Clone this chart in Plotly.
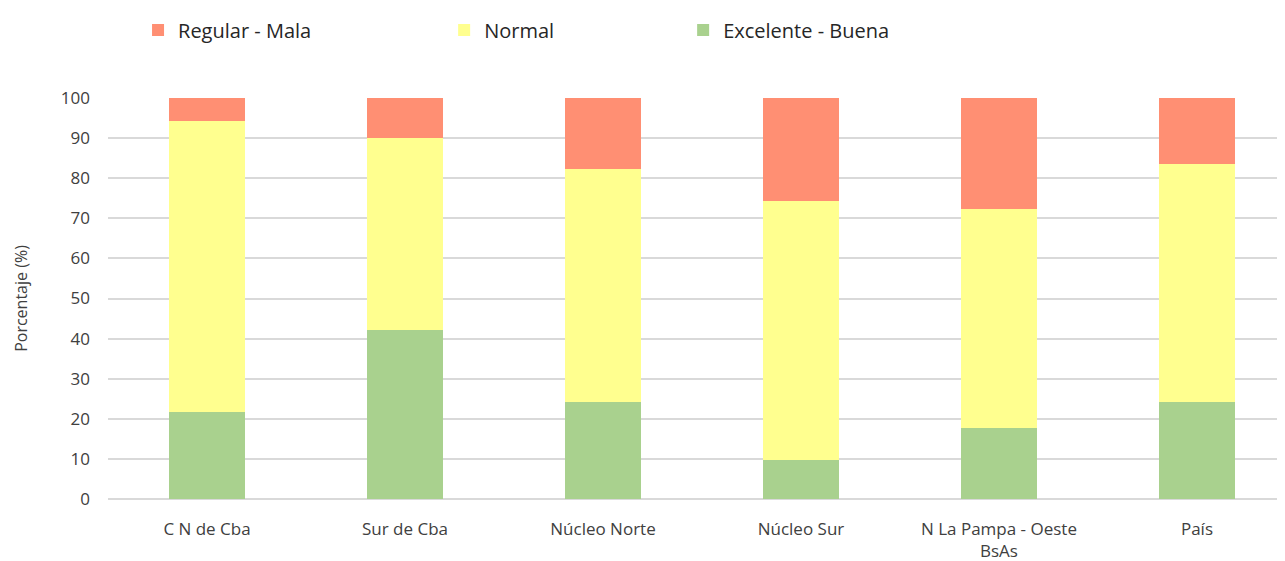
import plotly.graph_objects as go

categories = ["C N de Cba", "Sur de Cba", "Núcleo Norte", "Núcleo Sur", "N La Pampa - Oeste<br>BsAs", "País"]
excelente_buena = [21.8, 42.2, 24.2, 9.8, 17.6, 24.1]
normal = [72.5, 47.9, 58.0, 64.6, 54.8, 59.5]
regular_mala = [5.7, 9.9, 17.8, 25.6, 27.6, 16.4]
y_ticks = [0, 10, 20, 30, 40, 50, 60, 70, 80, 90, 100]

FONT = "Open Sans"
fig = go.Figure()
fig.add_bar(x=categories, y=excelente_buena, name="Excelente - Buena", marker_color="#A9D18E", width=0.38,
            marker_line_width=0, legend="legend3")
fig.add_bar(x=categories, y=normal, name="Normal", marker_color="#FFFF8F", width=0.38, marker_line_width=0,
            legend="legend2")
fig.add_bar(x=categories, y=regular_mala, name="Regular - Mala", marker_color="#FF8F73", width=0.38,
            marker_line_width=0, legend="legend")

leg_common = dict(orientation="h", xref="container", yref="container", y=0.961,
                  xanchor="left", yanchor="middle", bgcolor="rgba(0,0,0,0)",
                  font=dict(size=20, color="#262626", family=FONT))
fig.update_layout(
    barmode="stack",
    width=1285, height=561,
    margin=dict(l=100, r=0, t=90, b=70),
    plot_bgcolor="white", paper_bgcolor="white",
    font=dict(family=FONT, color="#404040", size=12),
    legend=dict(x=0.1012, **leg_common),
    legend2=dict(x=0.3394, **leg_common),
    legend3=dict(x=0.5254, **leg_common),
    showlegend=True,
)
fig.update_xaxes(range=[-0.5, 5.485], showgrid=False, showline=False, zeroline=False,
                 ticks="", ticklabelstandoff=18, tickfont=dict(size=17, color="#404040"))
fig.update_yaxes(range=[0, 100], tickvals=y_ticks, showgrid=True, gridcolor="#D9D9D9", gridwidth=1.5,
                 zeroline=True, zerolinecolor="#D9D9D9", zerolinewidth=1.5,
                 ticks="", ticklabelstandoff=17, tickfont=dict(size=17, color="#404040"),
                 title=dict(text="Porcentaje (%)", font=dict(size=16, color="#404040"), standoff=29))

fig.write_html("out.html")
